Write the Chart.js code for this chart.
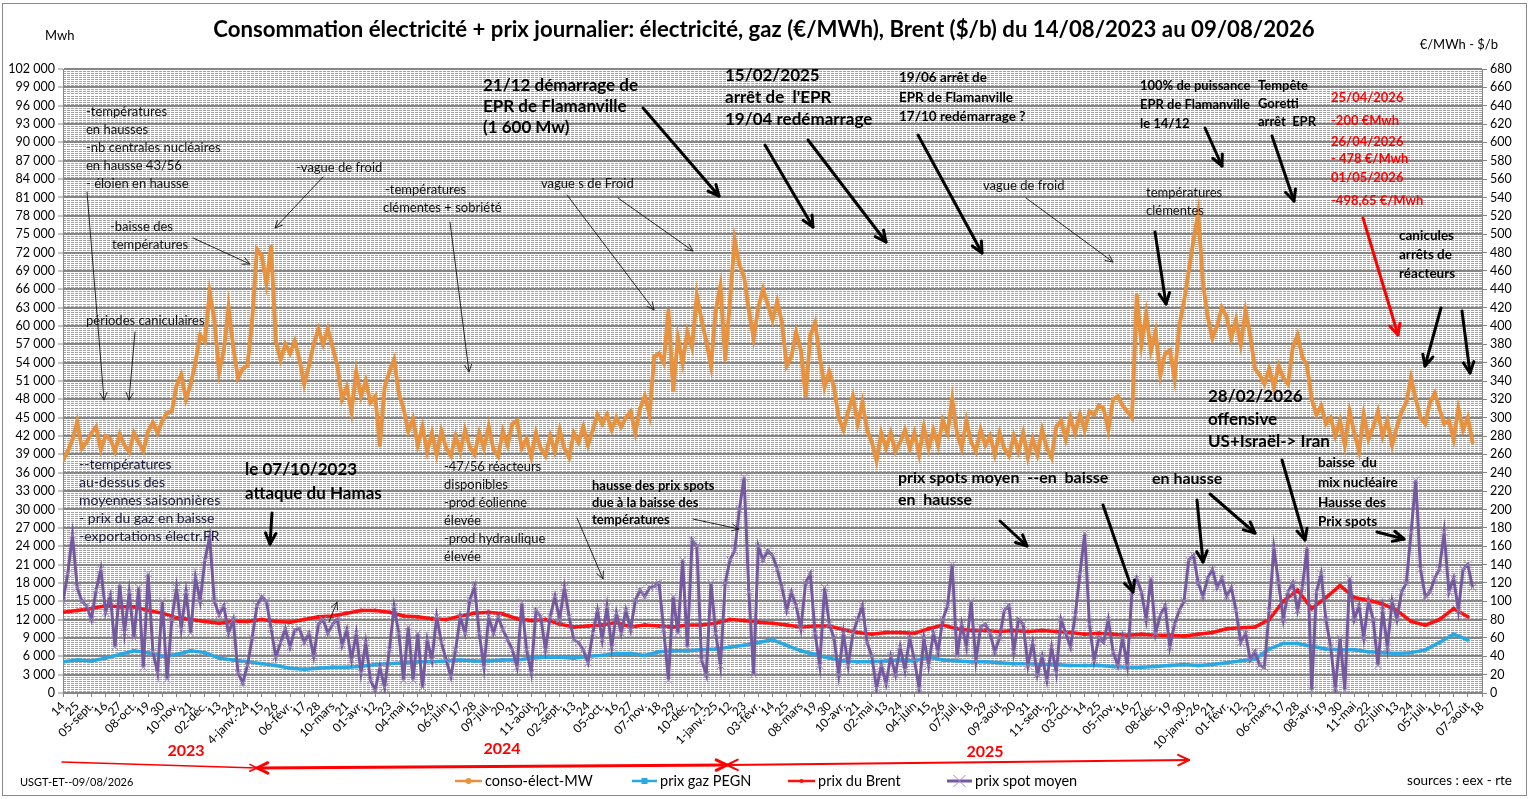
<!DOCTYPE html>
<html lang="fr">
<head>
<meta charset="utf-8">
<title>Consommation électricité + prix journalier</title>
<script src="https://cdn.jsdelivr.net/npm/chart.js@4.4.1/dist/chart.umd.min.js"></script>
<style>
  html, body { margin: 0; padding: 0; background: #fff; }
  #wrap { width: 1529px; height: 799px; }
</style>
</head>
<body>
<div id="wrap"><canvas id="chart" width="1529" height="799"></canvas></div>
<script>
// étiquettes de l'axe des dates (une tous les 11 jours, du 14/08/2023 au 18/08/2026)
var dateLabels = ["14","25","05-sept.","16","27","08-oct.","19","30","10-nov.","21",
  "02-déc.","13","24","4-janv.-24","15","26","06-févr.","17","28","10-mars",
  "21","01-avr.","12","23","04-mai","15","26","06-juin","17","28",
  "09-juil.","20","31","11-août","22","02-sept.","13","24","05-oct.","16",
  "27","07-nov.","18","29","10-déc.","21","1-janv.-25","12","23","03-févr.",
  "14","25","08-mars","19","30","10-avr.","21","02-mai","13","24",
  "04-juin","15","26","07-juil.","18","29","09-août","20","31","11-sept.",
  "22","03-oct.","14","25","05-nov.","16","27","08-déc.","19","30",
  "10-janv.-26","21","01-févr.","12","23","06-mars","17","28","08-avr.","19",
  "30","11-mai","22","02-juin","13","24","05-juil.","16","27","07-août","18"];

// conso électrique (MW), un point tous les 11/3 jours
var consoMW = [38000,39500,41400,44300,40000,41000,42500,43500,39800,42000,
  41500,39500,42300,40500,39400,42500,41000,39600,42800,44200,
  42500,44500,45800,46000,50200,52000,48000,50500,54000,58500,
  57500,65500,61000,52500,56000,63000,56500,51500,53000,53500,
  61000,72500,71500,67000,73000,57500,54500,57000,55500,57500,
  54500,50500,53500,57000,59500,57000,59500,56500,53500,48000,
  50000,46000,52500,48500,51000,47500,48500,40500,50000,52500,
  54500,49000,46500,42800,44800,40500,43500,39500,42500,39000,
  42800,40000,38800,42000,39500,43000,40200,39000,42500,40000,
  43500,39800,38700,42800,40500,44000,44500,40000,41500,38600,
  42500,40000,38800,42000,39500,43000,40000,38500,42500,41000,
  43500,40500,43000,45500,44000,45500,43000,45000,43500,45000,
  46000,42500,46500,48500,45500,55000,55500,54000,62500,49500,
  58000,54000,59000,56500,65000,61000,57500,53500,62500,66500,
  54500,64000,74000,70000,68000,62500,58000,63000,66000,63500,
  61000,64000,60500,53500,55000,59000,56000,48500,58500,60500,
  55000,50000,52500,50000,45000,43000,46000,48500,44000,47500,
  43000,41000,38000,42500,40000,42500,39500,41000,43000,40000,
  42500,39000,43500,40000,43000,40500,44500,42500,48000,42500,
  40000,44500,41000,39500,43000,40500,42000,39000,42500,40000,
  38800,42000,39500,42500,38500,41500,39000,43000,40000,38500,
  43500,44500,41500,45000,42500,45500,43000,46000,45500,47000,
  46500,43000,48000,48500,47000,46000,45000,65000,57000,62000,
  56000,59000,52000,55500,56000,51500,60000,64000,69000,74000,
  78500,67000,61500,58000,60000,63000,61500,58000,61000,57000,
  62500,58500,53000,52000,50500,53000,50000,53500,51500,50500,
  56500,58500,55000,53500,48000,45500,47000,44000,45000,42000,
  44500,40500,46000,42500,39500,45500,41500,43500,46000,42000,
  44500,40500,43500,46000,47500,51500,48000,45000,44000,47500,
  49000,46500,44000,44500,41500,46500,43000,45000,41000];

// prix spot moyen (€/MWh), même pas que la conso
var spotEur = [100,130,172,115,100,95,80,112,135,88,
  106,50,118,66,110,60,115,28,130,45,
  22,100,15,80,115,70,110,65,126,100,
  145,170,100,85,95,65,80,22,11,30,
  60,95,105,100,70,39,55,70,50,69,
  70,55,65,40,75,80,65,75,80,52,
  69,36,65,22,55,14,3,28,6,47,
  94,65,14,72,14,65,6,58,36,83,
  55,36,18,47,83,65,101,116,65,28,
  83,65,83,69,58,47,28,98,47,22,
  90,83,47,83,105,80,115,83,58,55,
  47,33,65,90,58,94,50,87,65,90,
  69,101,112,105,115,116,120,69,14,105,
  65,145,50,167,160,36,20,120,65,30,
  120,145,155,200,235,110,20,160,145,155,
  150,135,115,90,110,95,70,120,130,65,
  30,115,75,60,20,65,30,65,80,95,
  55,40,5,30,10,40,20,50,25,60,
  36,5,60,30,65,45,80,95,140,40,
  75,50,100,35,72,75,65,45,60,90,
  95,45,80,75,30,55,20,40,14,50,
  22,80,65,50,85,130,174,75,35,60,
  55,80,45,30,60,30,110,125,110,80,
  125,65,85,95,50,75,90,100,145,150,
  120,105,125,135,115,125,105,115,90,55,
  65,36,45,30,28,90,158,120,80,110,
  120,90,115,158,3,110,130,80,50,5,
  60,3,125,80,95,60,100,80,30,90,
  50,100,80,110,120,175,232,135,105,110,
  125,135,175,110,125,90,135,140,115];

// prix du Brent ($/b), un point tous les 11 jours
var brentUsd = [88,90,92,95,94,94,90,87,82,80,
  78,76,78,78,80,78,77,80,83,84,
  87,90,90,88,84,83,81,80,84,87,
  88,86,81,79,80,75,72,73,74,77,
  72,74,73,72,74,74,76,80,79,77,
  76,74,72,73,73,69,66,64,66,66,
  65,70,74,70,68,68,67,68,67,68,
  67,66,64,65,64,63,64,63,63,62,
  64,66,70,71,72,80,100,112,92,104,
  117,104,101,97,90,78,74,80,92,83];

// prix gaz PEGN (€/MWh), un point tous les 11 jours
var gazPegn = [34,36,35,38,42,46,44,40,42,46,
  44,38,36,34,32,30,27,26,27,28,
  28,29,31,32,33,34,34,35,36,35,
  35,36,36,38,39,39,38,40,41,43,
  43,41,45,46,46,47,48,50,52,55,
  58,52,46,42,38,35,34,34,35,36,
  35,39,36,35,34,34,33,32,32,31,
  31,30,30,30,29,28,28,29,30,31,
  30,31,33,35,37,48,54,54,51,48,
  47,47,45,44,43,44,47,55,64,58];

var STEP_FINE = 11 / 3;  // jours entre deux points conso / spot
var STEP_TICK = 11;      // jours entre deux étiquettes (et points brent / gaz)
var FONT = 'Lato, "Open Sans", sans-serif';

var C_ORANGE = '#E8913E';
var C_BLUE = '#2AA8E4';
var C_RED = '#FF1010';
var C_PURPLE = '#7559A0';

function toPoints(arr, step) {
    return arr.map(function (v, i) { return { x: i * step, y: v }; });
}

function spaced(v) {
    return String(v).replace(/\B(?=(\d{3})+(?!\d))/g, ' ');
}

// textes : [texte, x, y, taille, gras, couleur]
var notes = [
    ['-températures', 86, 112, 13, 0, '#111'],
    ['en hausses', 86, 130, 13, 0, '#111'],
    ['-nb centrales nucléaires', 86, 148, 13, 0, '#111'],
    ['en hausse 43/56', 86, 166, 13, 0, '#111'],
    ['- éloien en hausse', 86, 184, 13, 0, '#111'],
    ['-vague de froid', 296, 168, 13, 0, '#111'],
    ['-baisse des', 110, 227, 13, 0, '#111'],
    ['températures', 112, 245, 13, 0, '#111'],
    ['périodes caniculaires', 86, 321, 13, 0, '#111'],
    ['-températures', 385, 190, 13, 0, '#111'],
    ['clémentes + sobriété', 383, 208, 13, 0, '#111'],
    ['vague s de Froid', 541, 184, 13, 0, '#111'],
    ['vague de froid', 983, 186, 13, 0, '#111'],
    ['températures', 1146, 193, 13, 0, '#111'],
    ['clémentes', 1146, 211, 13, 0, '#111'],
    ['-47/56 réacteurs', 444, 467, 13, 0, '#111'],
    ['disponibles', 444, 485, 13, 0, '#111'],
    ['-prod éolienne', 444, 503, 13, 0, '#111'],
    ['élevée', 444, 521, 13, 0, '#111'],
    ['-prod hydraulique', 444, 539, 13, 0, '#111'],
    ['élevée', 444, 557, 13, 0, '#111'],
    ['--températures', 79, 464, 14, 0, '#1a1a40'],
    ['au-dessus des', 79, 482, 14, 0, '#1a1a40'],
    ['moyennes saisonnières', 79, 500, 14, 0, '#1a1a40'],
    ['- prix du gaz en baisse', 79, 518, 14, 0, '#1a1a40'],
    ['-exportations électr.FR', 79, 536, 14, 0, '#1a1a40'],
    ['le 07/10/2023', 245, 470, 17, 1, '#000'],
    ['attaque du Hamas', 245, 494, 17, 1, '#000'],
    ['21/12 démarrage de', 483, 86, 17, 1, '#000'],
    ['EPR de Flamanville', 483, 107, 17, 1, '#000'],
    ['(1 600 Mw)', 483, 128, 17, 1, '#000'],
    ['15/02/2025', 725, 76, 17, 1, '#000'],
    ["arrêt de  l'EPR", 725, 98, 17, 1, '#000'],
    ['19/04 redémarrage', 725, 120, 17, 1, '#000'],
    ['28/02/2026', 1208, 397, 17, 1, '#000'],
    ['offensive', 1208, 420, 17, 1, '#000'],
    ['US+Israël-> Iran', 1208, 442, 17, 1, '#000'],
    ['19/06 arrêt de', 899, 78, 13.5, 1, '#000'],
    ['EPR de Flamanville', 899, 98, 13.5, 1, '#000'],
    ['17/10 redémarrage ?', 899, 117, 13.5, 1, '#000'],
    ['100% de puissance', 1140, 86, 13, 1, '#000'],
    ['EPR de Flamanville', 1140, 105, 13, 1, '#000'],
    ['le 14/12', 1140, 124, 13, 1, '#000'],
    ['Tempête', 1258, 86, 13, 1, '#000'],
    ['Goretti', 1258, 104, 13, 1, '#000'],
    ['arrêt  EPR', 1258, 122, 13, 1, '#000'],
    ['canicules', 1399, 236, 13.5, 1, '#000'],
    ['arrêts de', 1399, 255, 13.5, 1, '#000'],
    ['réacteurs', 1399, 274, 13.5, 1, '#000'],
    ['baisse  du', 1318, 463, 13.5, 1, '#000'],
    ['mix nucléaire', 1318, 483, 13.5, 1, '#000'],
    ['Hausse des', 1318, 503, 13.5, 1, '#000'],
    ['Prix spots', 1318, 522, 13.5, 1, '#000'],
    ['prix spots moyen  --en  baisse', 898, 478, 16, 1, '#000'],
    ['en  hausse', 898, 500, 16, 1, '#000'],
    ['en hausse', 1152, 479, 16, 1, '#000'],
    ['hausse des prix spots', 592, 486, 13, 1, '#000'],
    ['due à la baisse des', 592, 503, 13, 1, '#000'],
    ['températures', 592, 520, 13, 1, '#000'],
    ['25/04/2026', 1331, 98, 13, 1, '#FF0000'],
    ['-200 €Mwh', 1331, 121, 13, 1, '#FF0000'],
    ['26/04/2026', 1331, 142, 13, 1, '#FF0000'],
    ['- 478 €/Mwh', 1331, 159, 13, 1, '#FF0000'],
    ['01/05/2026', 1331, 178, 13, 1, '#FF0000'],
    ['-498,65 €/Mwh', 1331, 201, 13, 1, '#FF0000']
];

// flèches : [x1, y1, x2, y2, épaisseur, couleur]
var arrows = [
    [87, 192, 104, 400, 1, '#222'],
    [323, 177, 275, 228, 1, '#222'],
    [193, 238, 250, 264, 1, '#222'],
    [135, 332, 129, 400, 1, '#222'],
    [450, 222, 469, 372, 1, '#222'],
    [567, 195, 654, 310, 1, '#222'],
    [618, 198, 693, 251, 1, '#222'],
    [1026, 198, 1113, 262, 1, '#222'],
    [693, 519, 739, 529, 1, '#222'],
    [577, 518, 603, 579, 1, '#222'],
    [329, 622, 337, 602, 1, '#222'],
    [272, 513, 270, 544, 3, '#000'],
    [643, 108, 719, 196, 3, '#000'],
    [765, 145, 813, 227, 3, '#000'],
    [808, 140, 886, 242, 3, '#000'],
    [918, 135, 982, 253, 3, '#000'],
    [1205, 128, 1222, 166, 3, '#000'],
    [1155, 232, 1166, 304, 3, '#000'],
    [1272, 136, 1294, 201, 3, '#000'],
    [1441, 308, 1425, 366, 3, '#000'],
    [1462, 311, 1470, 373, 3, '#000'],
    [1000, 521, 1027, 546, 3, '#000'],
    [1103, 505, 1133, 592, 3, '#000'],
    [1197, 500, 1203, 562, 3, '#000'],
    [1210, 494, 1255, 533, 3, '#000'],
    [1282, 460, 1305, 540, 3, '#000'],
    [1377, 532, 1404, 539, 3, '#000'],
    [1363, 218, 1398, 335, 3, '#FF0000']
];

function drawArrow(ctx, x1, y1, x2, y2, lw, color, headStart) {
    var size = lw >= 2 ? 12 : 8;
    var a = Math.atan2(y2 - y1, x2 - x1);
    ctx.save();
    ctx.strokeStyle = color;
    ctx.lineWidth = lw;
    ctx.lineCap = 'round';
    ctx.lineJoin = 'round';
    ctx.beginPath();
    ctx.moveTo(x1, y1);
    ctx.lineTo(x2, y2);
    ctx.stroke();
    function head(x, y, ang) {
        ctx.beginPath();
        ctx.moveTo(x - size * Math.cos(ang - 0.45), y - size * Math.sin(ang - 0.45));
        ctx.lineTo(x, y);
        ctx.lineTo(x - size * Math.cos(ang + 0.45), y - size * Math.sin(ang + 0.45));
        ctx.stroke();
    }
    head(x2, y2, a);
    if (headStart) head(x1, y1, a + Math.PI);
    ctx.restore();
}

var decor = {
    id: 'decor',
    beforeDraw: function (chart) {
        var ctx = chart.ctx;
        var area = chart.chartArea;
        var ys = chart.scales.y;
        ctx.save();
        ctx.fillStyle = '#fff';
        ctx.fillRect(0, 0, chart.width, chart.height);
        // quadrillage secondaire : 9 traits pointillés par intervalle de 3000
        ctx.strokeStyle = '#a2a2a2';
        ctx.lineWidth = 1;
        ctx.setLineDash([3, 1]);
        for (var k = 1; k < 34 * 9; k++) {
            if (k % 9 === 0) continue;
            var py = Math.round(ys.getPixelForValue(k * 3000 / 9)) + 0.5;
            ctx.beginPath();
            ctx.moveTo(area.left, py);
            ctx.lineTo(area.right, py);
            ctx.stroke();
        }
        ctx.restore();
    },
    afterDraw: function (chart) {
        var ctx = chart.ctx;
        ctx.save();
        // cadre extérieur
        ctx.strokeStyle = '#8a8a8a';
        ctx.lineWidth = 1;
        ctx.strokeRect(2.5, 3.5, 1524, 792);

        // titre
        ctx.fillStyle = '#000';
        ctx.textBaseline = 'middle';
        ctx.textAlign = 'center';
        var title = 'Consommation électricité + prix journalier: électricité, gaz (€/MWh), Brent ($/b) du 14/08/2023 au 09/08/2026';
        ctx.font = 'bold 20px ' + FONT;
        var tw = ctx.measureText(title).width;
        var ts = 20 * 1102 / tw;
        ctx.font = 'bold ' + ts.toFixed(2) + 'px ' + FONT;
        ctx.fillText(title, 764, 30);

        // unités
        ctx.font = '13px ' + FONT;
        ctx.textAlign = 'left';
        ctx.fillText('Mwh', 45, 36);
        ctx.textAlign = 'right';
        ctx.fillText('€/MWh - $/b', 1498, 45);

        // annotations
        ctx.textAlign = 'left';
        notes.forEach(function (n) {
            ctx.font = (n[4] ? 'bold ' : '') + n[3] + 'px ' + FONT;
            ctx.fillStyle = n[5];
            ctx.fillText(n[0], n[1], n[2]);
        });
        arrows.forEach(function (a) {
            drawArrow(ctx, a[0], a[1], a[2], a[3], a[4], a[5], false);
        });

        // années et flèches rouges
        ctx.fillStyle = '#FF0000';
        ctx.font = 'bold 16px ' + FONT;
        ctx.textAlign = 'center';
        ctx.fillText('2023', 186, 751);
        ctx.fillText('2024', 502, 749);
        ctx.fillText('2025', 985, 752);
        drawArrow(ctx, 62, 762, 257, 768, 1.5, '#FF0000', false);
        drawArrow(ctx, 257, 768, 727, 765, 3, '#FF0000', true);
        drawArrow(ctx, 727, 765, 1189, 760, 2, '#FF0000', true);

        // légende
        var leg = [
            ['conso-élect-MW', 455, 482, C_ORANGE, 'circle'],
            ['prix gaz PEGN', 632, 657, C_BLUE, 'rect'],
            ['prix du Brent', 788, 815, C_RED, 'dot'],
            ['prix spot moyen', 947, 972, C_PURPLE, 'cross']
        ];
        ctx.font = '14.5px ' + FONT;
        ctx.textAlign = 'left';
        leg.forEach(function (l) {
            var y = 781;
            ctx.strokeStyle = l[3];
            ctx.fillStyle = l[3];
            ctx.lineWidth = l[4] === 'cross' ? 3 : 2.5;
            ctx.beginPath();
            ctx.moveTo(l[1], y);
            ctx.lineTo(l[2], y);
            ctx.stroke();
            var cx = (l[1] + l[2]) / 2;
            if (l[4] === 'rect') ctx.fillRect(cx - 3, y - 3, 6, 6);
            if (l[4] === 'circle') { ctx.beginPath(); ctx.arc(cx, y, 3, 0, 7); ctx.fill(); }
            if (l[4] === 'dot') { ctx.beginPath(); ctx.arc(cx, y, 2, 0, 7); ctx.fill(); }
            if (l[4] === 'cross') {
                ctx.strokeStyle = '#9c88bd';
                ctx.lineWidth = 1;
                ctx.beginPath();
                ctx.moveTo(cx - 6, y - 6); ctx.lineTo(cx + 6, y + 6);
                ctx.moveTo(cx - 6, y + 6); ctx.lineTo(cx + 6, y - 6);
                ctx.stroke();
            }
            ctx.fillStyle = '#000';
            ctx.fillText(l[0], l[2] + 3, y);
        });

        // pied
        ctx.font = '11px ' + FONT;
        ctx.fillText('USGT-ET--09/08/2026', 20, 782);
        ctx.font = '13.5px ' + FONT;
        ctx.textAlign = 'right';
        ctx.fillText('sources : eex - rte', 1512, 781);
        ctx.restore();
    }
};

var ctx = document.getElementById('chart').getContext('2d');
var chart = new Chart(ctx, {
    type: 'line',
    data: {
        datasets: [{
            label: 'conso-élect-MW',
            data: toPoints(consoMW, STEP_FINE),
            yAxisID: 'y',
            borderColor: C_ORANGE,
            backgroundColor: C_ORANGE,
            borderWidth: 4,
            pointRadius: 2,
            pointBorderWidth: 0,
            order: 4
        }, {
            label: 'prix gaz PEGN',
            data: toPoints(gazPegn, STEP_TICK),
            yAxisID: 'y1',
            borderColor: C_BLUE,
            backgroundColor: C_BLUE,
            borderWidth: 3.5,
            pointStyle: 'rect',
            pointRadius: 2.5,
            pointBorderWidth: 0,
            order: 3
        }, {
            label: 'prix du Brent',
            data: toPoints(brentUsd, STEP_TICK),
            yAxisID: 'y1',
            borderColor: C_RED,
            backgroundColor: C_RED,
            borderWidth: 3.5,
            pointRadius: 2,
            pointBorderWidth: 0,
            order: 2
        }, {
            label: 'prix spot moyen',
            data: toPoints(spotEur, STEP_FINE),
            yAxisID: 'y1',
            borderColor: C_PURPLE,
            backgroundColor: C_PURPLE,
            borderWidth: 3,
            pointStyle: 'crossRot',
            pointRadius: 5,
            pointBorderWidth: 1,
            pointBorderColor: '#9c88bd',
            order: 1
        }]
    },
    options: {
        responsive: false,
        animation: false,
        events: [],
        layout: { padding: { top: 69, left: 0, right: 0, bottom: 0 } },
        plugins: {
            legend: { display: false },
            tooltip: { enabled: false },
            title: { display: false }
        },
        scales: {
            x: {
                type: 'linear',
                min: 0,
                max: 1100,
                afterFit: function (s) { s.height = 106; },
                grid: { drawOnChartArea: false, tickLength: 4, color: '#868686' },
                border: { display: true, color: '#868686' },
                ticks: {
                    stepSize: STEP_TICK,
                    autoSkip: false,
                    minRotation: 45,
                    maxRotation: 45,
                    padding: 2,
                    color: '#000',
                    font: { family: FONT, size: 12 },
                    callback: function (v) { return dateLabels[Math.round(v / STEP_TICK)]; }
                }
            },
            y: {
                position: 'left',
                min: 0,
                max: 102000,
                afterFit: function (s) { s.width = 63; },
                grid: { color: '#868686', lineWidth: 2, tickLength: 5, tickColor: '#868686', tickWidth: 1 },
                border: { display: true, color: '#868686' },
                ticks: {
                    stepSize: 3000,
                    padding: 3,
                    color: '#000',
                    font: { family: FONT, size: 12.5 },
                    callback: function (v) { return spaced(v); }
                }
            },
            y1: {
                position: 'right',
                min: 0,
                max: 680,
                afterFit: function (s) { s.width = 47; },
                grid: { drawOnChartArea: false, tickLength: 5, color: '#868686' },
                border: { display: true, color: '#868686' },
                ticks: {
                    stepSize: 20,
                    padding: 3,
                    color: '#000',
                    font: { family: FONT, size: 12.5 }
                }
            }
        }
    },
    plugins: [decor]
});
</script>
</body>
</html>
